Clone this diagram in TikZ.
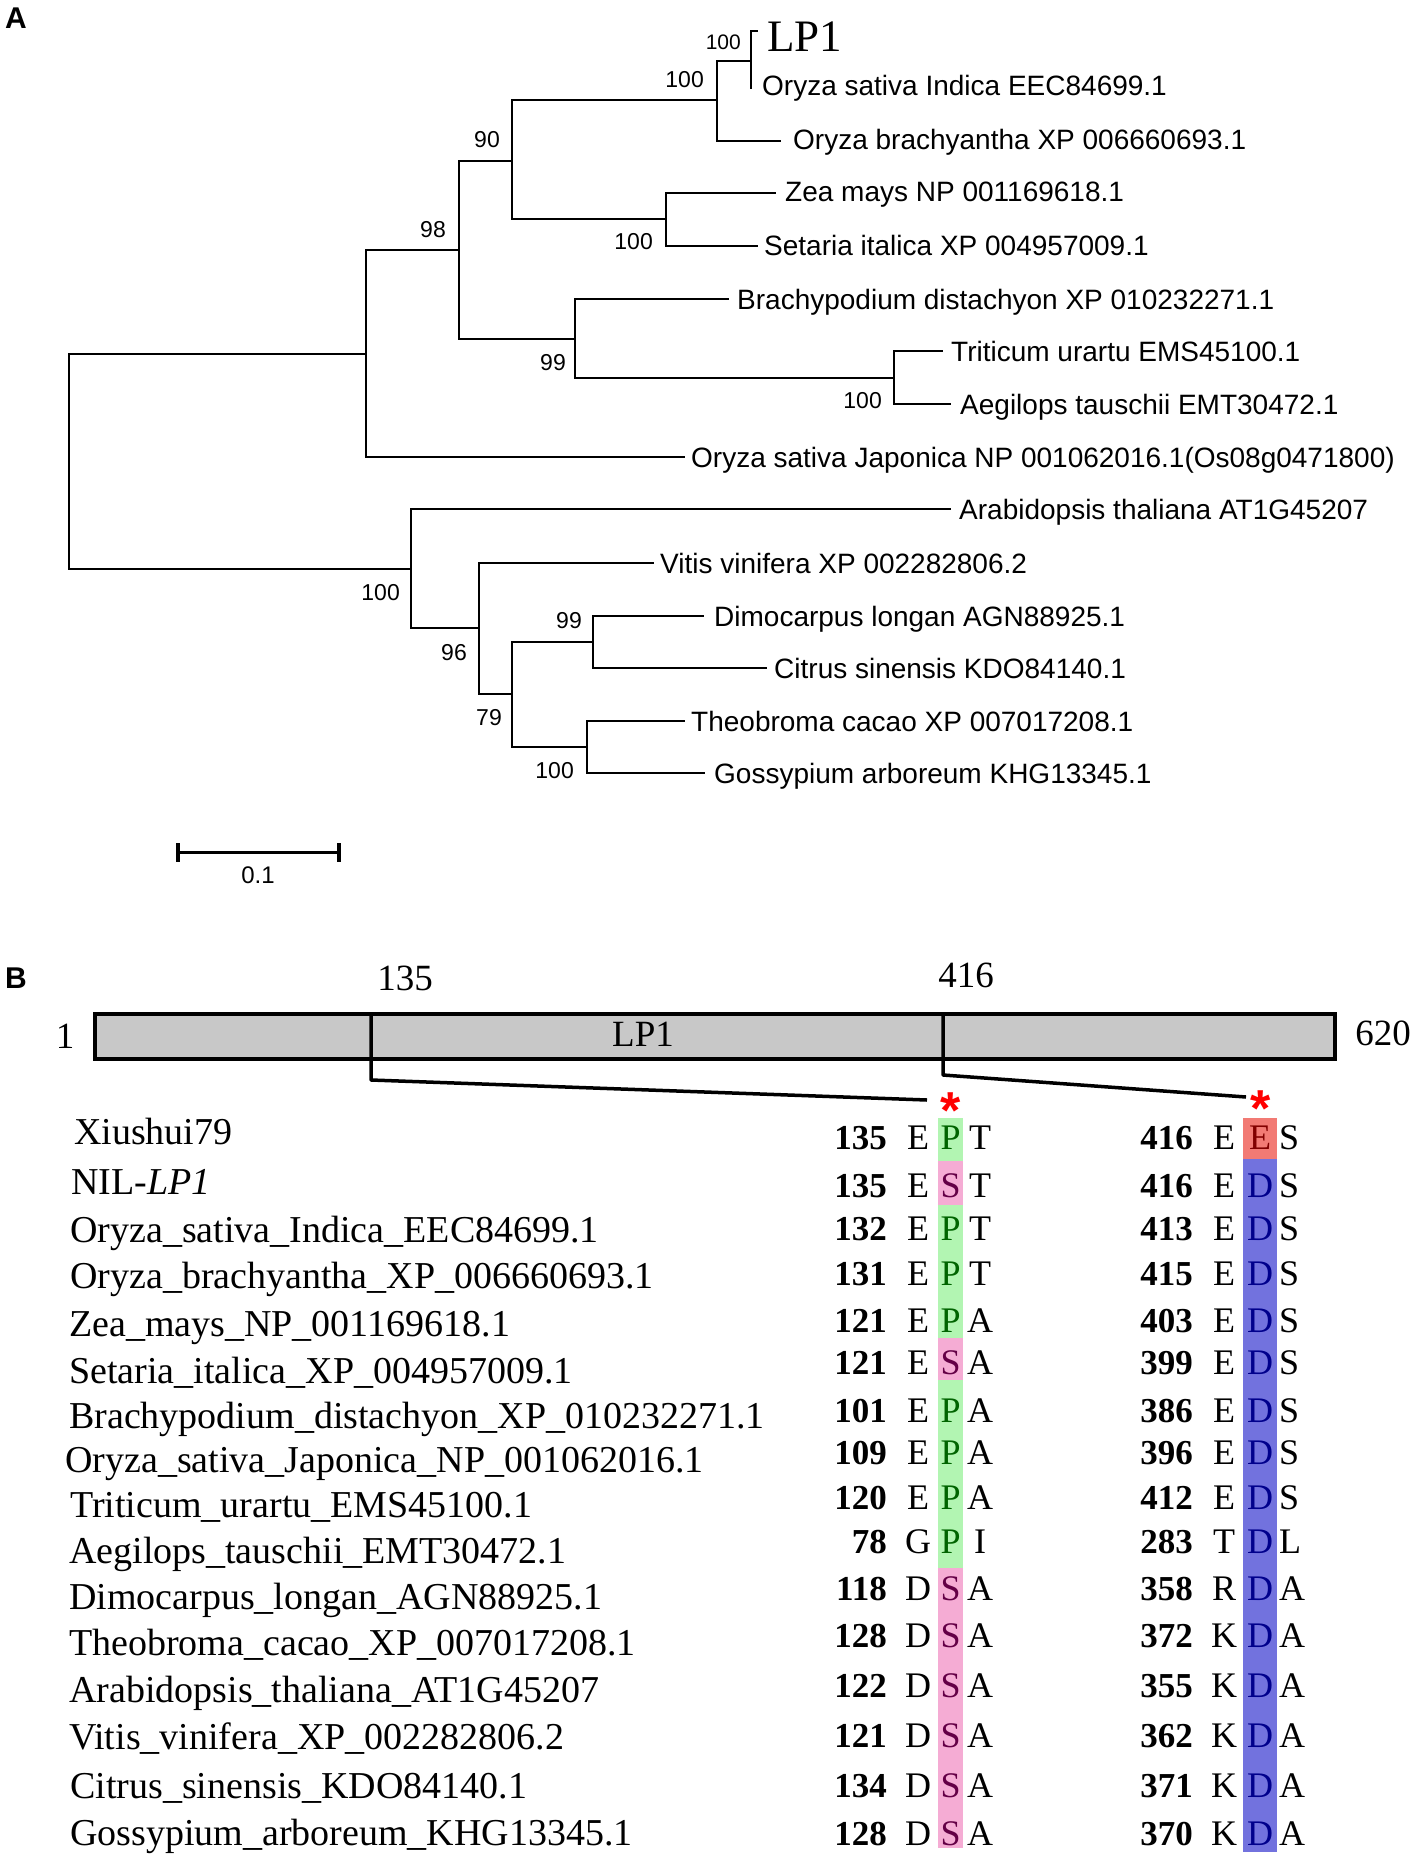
\documentclass[tikz,border=0pt]{standalone}
\usepackage{fontspec}
\setmainfont{Liberation Serif}
\setsansfont{Liberation Sans}
\definecolor{boxG}{RGB}{178,245,178}
\definecolor{boxP}{RGB}{245,172,212}
\definecolor{boxR}{RGB}{242,122,116}
\definecolor{boxB}{RGB}{114,114,222}
\definecolor{cP}{RGB}{0,100,0}
\definecolor{cS}{RGB}{100,0,70}
\definecolor{cE}{RGB}{130,0,0}
\definecolor{cD}{RGB}{0,0,140}
\definecolor{barfill}{RGB}{200,200,200}
\newcommand{\tightstar}{\raisebox{-0.4em}[0.32em][0pt]{*}}
\tikzset{
  br/.style={line width=2pt, line cap=rect},
  leaf/.style={font=\sffamily\fontsize{28}{30}\selectfont, inner sep=0pt, anchor=base west},
  boot/.style={font=\sffamily\fontsize{23}{25}\selectfont, inner sep=0pt, anchor=base east},
  panel/.style={font=\sffamily\bfseries\fontsize{30}{32}\selectfont, inner sep=0pt, anchor=base west},
  nm/.style={font=\rmfamily\fontsize{38}{40}\selectfont, inner sep=0pt, anchor=base west},
  num/.style={font=\rmfamily\bfseries\fontsize{35}{37}\selectfont, inner sep=0pt, anchor=base east},
  aa/.style={font=\rmfamily\fontsize{36}{38}\selectfont, inner sep=0pt, anchor=base},
  posnum/.style={font=\rmfamily\fontsize{37}{39}\selectfont, inner sep=0pt, anchor=base},
  redstar/.style={font=\sffamily\bfseries\fontsize{52}{54}\selectfont, text=red, inner sep=0pt, anchor=north},
  conn/.style={line width=3.5pt, line join=round},
}
\begin{document}
\begin{tikzpicture}[x=1pt,y=-1pt]
\useasboundingbox[fill=white] (0,0) rectangle (1418,1862);

% ---------------- Panel A ----------------
\node[panel] (pA) at (5,29) {A};

% internal nodes
\coordinate (root) at (69,461.5);
\coordinate (n1)   at (366,354);
\coordinate (n98)  at (459,250);
\coordinate (n90)  at (512,161);
\coordinate (nOry) at (717,100);
\coordinate (nLP)  at (751,61);
\coordinate (nZS)  at (666,219);
\coordinate (n99a) at (575,339);
\coordinate (nTA)  at (894,378);
\coordinate (nD)   at (411,569);
\coordinate (n96)  at (479,628);
\coordinate (n79)  at (512,694);
\coordinate (n99b) at (593,642);
\coordinate (nTG)  at (587,747);
% leaf ends
\coordinate (eLP)  at (757,31);
\coordinate (eInd) at (751,88);
\coordinate (eObr) at (780,141);
\coordinate (eZea) at (775,193);
\coordinate (eSet) at (757,246);
\coordinate (eBra) at (728,299);
\coordinate (eTri) at (942,351);
\coordinate (eAeg) at (950,404);
\coordinate (eJap) at (684,457);
\coordinate (eAra) at (950,509);
\coordinate (eVit) at (653,563);
\coordinate (eDim) at (703,616);
\coordinate (eCit) at (766,668);
\coordinate (eThe) at (684,721);
\coordinate (eGos) at (704,773);

\draw[br] (root) |- (n1);
\draw[br] (root) |- (nD);
\draw[br] (n1) |- (n98);
\draw[br] (n1) |- (eJap);
\draw[br] (n98) |- (n90);
\draw[br] (n98) |- (n99a);
\draw[br] (n90) |- (nOry);
\draw[br] (n90) |- (nZS);
\draw[br] (nOry) |- (nLP);
\draw[br] (nOry) |- (eObr);
\draw[br] (nLP) |- (eLP);
\draw[br] (nLP) -- (eInd);
\draw[br] (nZS) |- (eZea);
\draw[br] (nZS) |- (eSet);
\draw[br] (n99a) |- (eBra);
\draw[br] (n99a) |- (nTA);
\draw[br] (nTA) |- (eTri);
\draw[br] (nTA) |- (eAeg);
\draw[br] (nD) |- (eAra);
\draw[br] (nD) |- (n96);
\draw[br] (n96) |- (eVit);
\draw[br] (n96) |- (n79);
\draw[br] (n79) |- (n99b);
\draw[br] (n79) |- (nTG);
\draw[br] (n99b) |- (eDim);
\draw[br] (n99b) |- (eCit);
\draw[br] (nTG) |- (eThe);
\draw[br] (nTG) |- (eGos);

% leaf labels
\node[font=\rmfamily\fontsize{45}{47}\selectfont, inner sep=0pt, anchor=base west] (tLP) at (767,52) {LP1};
\node[leaf] (tInd) at (762,96) {Oryza sativa Indica EEC84699.1};
\node[leaf] (tObr) at (793,150) {Oryza brachyantha XP 006660693.1};
\node[leaf] (tZea) at (785,202) {Zea mays NP 001169618.1};
\node[leaf] (tSet) at (764,256) {Setaria italica XP 004957009.1};
\node[leaf] (tBra) at (737,309) {Brachypodium distachyon XP 010232271.1};
\node[leaf] (tTri) at (951,361) {Triticum urartu EMS45100.1};
\node[leaf] (tAeg) at (960,414) {Aegilops tauschii EMT30472.1};
\node[leaf] (tJap) at (691,467) {Oryza sativa Japonica NP 001062016.1(Os08g0471800)};
\node[leaf] (tAra) at (959,519) {Arabidopsis thaliana AT1G45207};
\node[leaf] (tVit) at (660,573) {Vitis vinifera XP 002282806.2};
\node[leaf] (tDim) at (714,626) {Dimocarpus longan AGN88925.1};
\node[leaf] (tCit) at (774,678) {Citrus sinensis KDO84140.1};
\node[leaf] (tThe) at (691,731) {Theobroma cacao XP 007017208.1};
\node[leaf] (tGos) at (714,783) {Gossypium arboreum KHG13345.1};

% bootstrap values
\node[boot, font=\sffamily\fontsize{21}{23}\selectfont] (bLP) at (741,49.5) {100};
\node[boot] (bOry) at (704,88) {100};
\node[boot] (b90)  at (500,148) {90};
\node[boot] (bZS)  at (653,250) {100};
\node[boot] (b98)  at (446,238) {98};
\node[boot] (b99a) at (566,370) {99};
\node[boot] (bTA)  at (882,408) {100};
\node[boot] (bD)   at (400,600) {100};
\node[boot] (b96)  at (467,660) {96};
\node[boot] (b79)  at (502,725) {79};
\node[boot] (b99b) at (582,628) {99};
\node[boot] (bTG)  at (574,778) {100};

% scale bar
\coordinate (sb1) at (178,852);
\coordinate (sb2) at (339,852);
\draw[line width=3pt] (sb1) -- (sb2);
\draw[line width=4pt] ([yshift=-9.5pt]sb1) -- ([yshift=9.5pt]sb1);
\draw[line width=4pt] ([yshift=-9.5pt]sb2) -- ([yshift=9.5pt]sb2);
\node[font=\sffamily\fontsize{24}{26}\selectfont, inner sep=0pt, anchor=base] (sbl) at (258,883.5) {0.1};

% ---------------- Panel B ----------------
\node[panel] (pB) at (5,988) {B};

\node[draw, line width=4pt, fill=barfill, minimum width=1240pt, minimum height=45pt, inner sep=0pt, anchor=north west] (bar) at (93,1012) {};
\node[posnum] (lbl) at (643,1046) {LP1};
\node[posnum] (p1) at (65,1048) {1};
\node[posnum] (p620) at (1383,1045) {620};
\node[posnum] (p135) at (405,990) {135};
\node[posnum] (p416) at (966,987) {416};

\coordinate (d1t) at (371,1012);
\coordinate (d1b) at (371,1080);
\coordinate (d1e) at (927,1100);
\coordinate (d2t) at (943,1012);
\coordinate (d2b) at (943,1075);
\coordinate (d2e) at (1246,1097);
\draw[conn] (d1t) -- (d1b) -- (d1e);
\draw[conn] (d2t) -- (d2b) -- (d2e);

\node[redstar] (s1) at (950.5,1091) {\tightstar};
\node[redstar] (s2) at (1261,1089) {\tightstar};

% highlight columns
\fill[boxG] (938,1118) rectangle (963,1161);
\fill[boxP] (938,1161) rectangle (963,1205);
\fill[boxG] (938,1205) rectangle (963,1338);
\fill[boxP] (938,1338) rectangle (963,1380);
\fill[boxG] (938,1380) rectangle (963,1568);
\fill[boxP] (938,1568) rectangle (963,1848);
\fill[boxR] (1243,1118) rectangle (1277,1159);
\fill[boxB] (1243,1159) rectangle (1277,1852);

% sequence names
\node[nm] (m1)  at (74,1144.5) {Xiushui79};
\node[nm] (m2)  at (71,1194.5) {NIL-\textit{LP1}};
\node[nm] (m3)  at (70,1242.5) {Oryza\_sativa\_Indica\_EEC84699.1};
\node[nm] (m4)  at (70,1288.5) {Oryza\_brachyantha\_XP\_006660693.1};
\node[nm] (m5)  at (69,1336.5) {Zea\_mays\_NP\_001169618.1};
\node[nm] (m6)  at (69,1383.5) {Setaria\_italica\_XP\_004957009.1};
\node[nm] (m7)  at (69,1428.5) {Brachypodium\_distachyon\_XP\_010232271.1};
\node[nm] (m8)  at (65,1472.5) {Oryza\_sativa\_Japonica\_NP\_001062016.1};
\node[nm] (m9)  at (70,1517.5) {Triticum\_urartu\_EMS45100.1};
\node[nm] (m10) at (69,1563.5) {Aegilops\_tauschii\_EMT30472.1};
\node[nm] (m11) at (69,1609.5) {Dimocarpus\_longan\_AGN88925.1};
\node[nm] (m12) at (69,1655.5) {Theobroma\_cacao\_XP\_007017208.1};
\node[nm] (m13) at (69,1702.5) {Arabidopsis\_thaliana\_AT1G45207};
\node[nm] (m14) at (69,1749.5) {Vitis\_vinifera\_XP\_002282806.2};
\node[nm] (m15) at (70,1798.5) {Citrus\_sinensis\_KDO84140.1};
\node[nm] (m16) at (70,1845.5) {Gossypium\_arboreum\_KHG13345.1};

% alignment
\foreach \i/\y/\ln/\la/\lb/\lbc/\lc/\rn/\ra/\rb/\rbc/\rc in {
  1/1137/135/E/P/cP/T/416/E/E/cE/S,
  2/1185/135/E/S/cS/T/416/E/D/cD/S,
  3/1228/132/E/P/cP/T/413/E/D/cD/S,
  4/1273/131/E/P/cP/T/415/E/D/cD/S,
  5/1320/121/E/P/cP/A/403/E/D/cD/S,
  6/1362/121/E/S/cS/A/399/E/D/cD/S,
  7/1410/101/E/P/cP/A/386/E/D/cD/S,
  8/1452/109/E/P/cP/A/396/E/D/cD/S,
  9/1497/120/E/P/cP/A/412/E/D/cD/S,
  10/1541/78/G/P/cP/I/283/T/D/cD/L,
  11/1588/118/D/S/cS/A/358/R/D/cD/A,
  12/1635/128/D/S/cS/A/372/K/D/cD/A,
  13/1685/122/D/S/cS/A/355/K/D/cD/A,
  14/1735/121/D/S/cS/A/362/K/D/cD/A,
  15/1785/134/D/S/cS/A/371/K/D/cD/A,
  16/1833/128/D/S/cS/A/370/K/D/cD/A}{
  \node[num] (ln\i) at (887,\y+12) {\ln};
  \node[aa] (la\i) at (918,\y+12) {\la};
  \node[aa, text=\lbc] (lb\i) at (950.5,\y+12) {\lb};
  \node[aa] (lc\i) at (980,\y+12) {\lc};
  \node[num] (rn\i) at (1193,\y+12) {\rn};
  \node[aa] (ra\i) at (1224,\y+12) {\ra};
  \node[aa, text=\rbc] (rb\i) at (1260,\y+12) {\rb};
  \node[aa, anchor=base west] (rc\i) at (1279,\y+12) {\rc};
}
\end{tikzpicture}
\end{document}
